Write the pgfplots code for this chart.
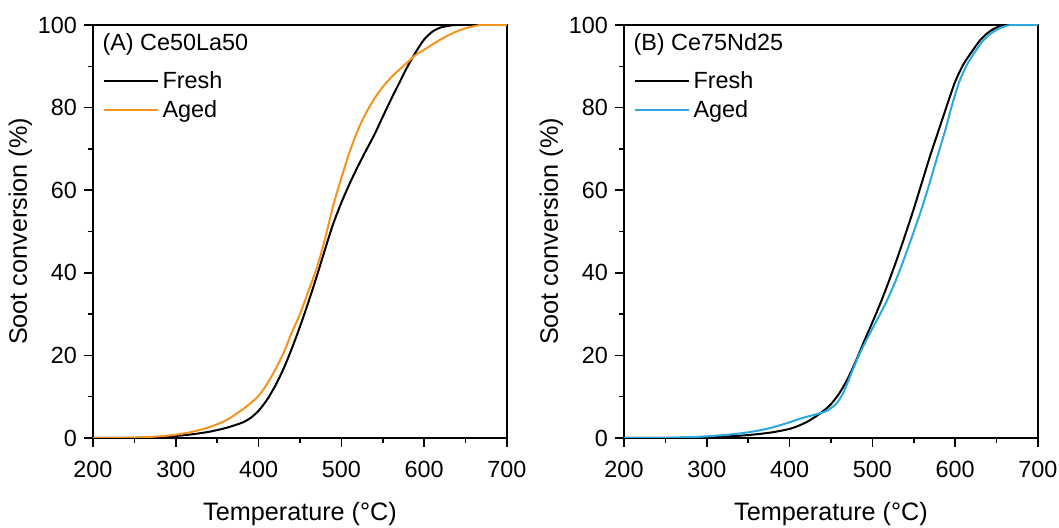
\documentclass[border=0pt]{standalone}
\usepackage{pgfplots}
\pgfplotsset{compat=1.18}
\usepackage{fontspec}
\setmainfont{Liberation Sans}
\definecolor{agedorange}{RGB}{246,146,30}
\definecolor{agedblue}{RGB}{41,168,226}
\pgfplotsset{
  myaxis/.style={
    scale only axis, width=207pt, height=206.5pt,
    xmin=200, xmax=700, ymin=0, ymax=100,
    xtick={200,300,...,700}, ytick={0,20,...,100},
    minor x tick num=1, minor y tick num=1,
    xtick pos=bottom, ytick pos=left,
    tick align=outside,
    major tick length=4.5pt, minor tick length=2.5pt,
    axis line style={line width=0.75pt},
    every tick/.style={line width=0.75pt, black},
    /pgf/number format/assume math mode=true,
    ticklabel style={font=\fontsize{11.7}{14}\selectfont},
    xticklabel style={yshift=-3.5pt},
    label style={font=\fontsize{12.6}{15}\selectfont},
    xlabel={Temperature (°C)}, ylabel={Soot conversion (\%)},
    xlabel style={yshift=-5.5pt},
    ylabel style={yshift=-4pt},
    legend cell align=left,
    legend style={draw=none, fill=none, at={(rel axis cs:0.022,0.898)}, anchor=north west,
      font=\fontsize{11.7}{14}\selectfont, row sep=0.3pt, inner sep=0pt},
    legend image code/.code={\draw[#1] (0pt,0pt) -- (27pt,0pt);},
  }
}
\begin{document}
\begin{tikzpicture}
\path[use as bounding box] (-46.5pt,-45pt) rectangle (483pt,219pt);
\begin{axis}[myaxis, at={(0,0)}, anchor=south west]
\addplot[black, line width=1pt, smooth, tension=0.45] coordinates {
(200,0) (250,0.05) (280,0.2) (300,0.5) (320,0.9) (340,1.5) (360,2.4) (380,3.7) (390,4.8)
(400,6.6) (410,9.2) (420,12.6) (430,16.7) (440,21.6) (450,27) (460,32.8) (470,39)
(480,45.5) (490,51.8) (500,57) (510,61.6) (520,65.8) (530,69.7) (540,73.5) (550,77.8)
(560,82) (570,86) (580,90) (590,93.5) (600,96.5) (610,98.4) (620,99.4) (630,99.8) (640,100) (700,100)};
\addlegendentry{Fresh}
\addplot[agedorange, line width=1pt, smooth, tension=0.45] coordinates {
(200,0) (250,0.1) (280,0.4) (300,0.8) (320,1.5) (340,2.6) (360,4.2) (380,6.8) (390,8.4)
(400,10.2) (410,13) (420,16.5) (430,20.5) (440,25.5) (450,30) (460,35.5) (470,41)
(480,48) (490,56.2) (500,63) (510,69.3) (520,74.6) (530,78.8) (540,82.2) (550,85)
(560,87.3) (570,89.2) (580,91) (590,92.8) (600,94) (610,95.3) (620,96.5) (630,97.6)
(640,98.5) (650,99.2) (660,99.7) (670,100) (700,100)};
\addlegendentry{Aged}
\node[anchor=north west, inner sep=0pt, font=\fontsize{11.7}{14}\selectfont] at (rel axis cs:0.022,0.98) {(A) Ce50La50};
\end{axis}
\begin{axis}[myaxis, at={(265.5pt,0)}, anchor=south west]
\addplot[black, line width=1pt, smooth, tension=0.45] coordinates {
(200,0) (250,0.02) (280,0.1) (300,0.2) (320,0.35) (340,0.55) (360,0.9) (380,1.4) (400,2.2)
(410,2.9) (420,3.8) (430,5) (440,6.4) (450,8.2) (460,10.8) (470,14.3) (480,18.6)
(490,23.4) (500,28) (510,32.8) (520,38) (530,43.5) (540,49.4) (550,55.5) (560,62)
(570,68.5) (580,74.5) (590,80.5) (600,86.3) (610,90.5) (620,93.5) (630,96.3) (640,98.2)
(650,99.4) (660,100) (700,100)};
\addlegendentry{Fresh}
\addplot[agedblue, line width=1pt, smooth, tension=0.45] coordinates {
(200,0) (250,0.05) (280,0.2) (300,0.4) (320,0.7) (340,1.1) (360,1.7) (380,2.6) (400,3.8)
(410,4.5) (420,5.1) (430,5.6) (437,6) (445,6.6) (455,8) (460,9.3) (465,11) (470,13.4)
(475,15.9) (480,18.3) (486,21) (492,23.4) (504,28) (516,32.6) (528,38) (538.5,43.5) (549,49.4)
(559.5,55.5) (569.5,62) (579,68.5) (588,74.5) (596,80.5) (605,86.3) (614.5,90.5)
(624,93.5) (634,96.3) (645,98.2) (656,99.4) (668,100) (700,100)};
\addlegendentry{Aged}
\node[anchor=north west, inner sep=0pt, font=\fontsize{11.7}{14}\selectfont] at (rel axis cs:0.022,0.98) {(B) Ce75Nd25};
\end{axis}
\end{tikzpicture}
\end{document}
